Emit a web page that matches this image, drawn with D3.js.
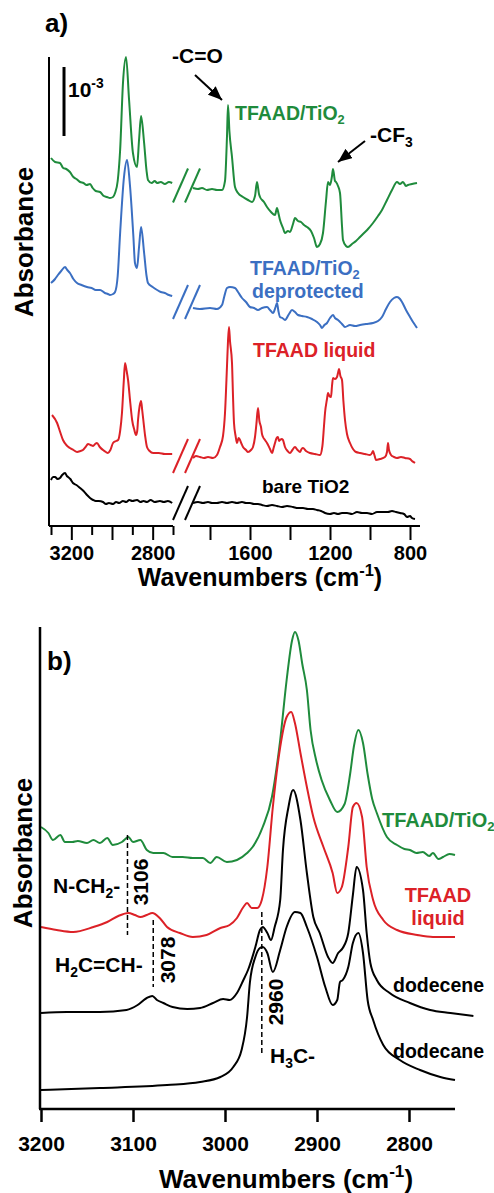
<!DOCTYPE html>
<html>
<head>
<meta charset="utf-8">
<script src="https://cdn.jsdelivr.net/npm/d3@7"></script>
<style>
	body { margin: 0; background: #fff; }
	svg { display: block; font-family: "Liberation Sans", Arial, Helvetica, sans-serif; font-weight: bold; }
</style>
</head>
<body>
<div id="chart"></div>
<script>
// panel a: [wavenumber (cm-1), absorbance with offset]
var tfaadTiO2A = [
	[3300,3.68],[3280,3.64],[3256,3.63],[3240,3.58],[3225,3.57],[3207,3.54],[3190,3.49],[3175,3.47],[3157,3.44],[3140,3.43],
	[3125,3.41],[3108,3.42],[3095,3.38],[3080,3.35],[3059,3.34],[3040,3.30],[3025,3.29],[3010,3.28],[2995,3.29],[2985,3.33],
	[2972,3.45],[2960,3.76],[2946,4.43],[2931,4.69],[2916,4.26],[2897,3.73],[2877,3.59],[2867,3.86],[2857,4.10],[2842,3.83],
	[2830,3.55],[2823,3.46],[2805,3.43],[2790,3.45],[2778,3.43],[2760,3.44],[2740,3.42],[2720,3.44],[2704,3.43],
	[1885,3.38],[1860,3.37],[1840,3.38],[1815,3.36],[1790,3.37],[1765,3.36],[1740,3.36],[1725,3.45],[1715,3.90],[1710,4.21],
	[1703,3.95],[1690,3.69],[1675,3.39],[1660,3.33],[1635,3.29],[1610,3.26],[1590,3.24],[1575,3.30],[1565,3.44],[1555,3.32],
	[1550,3.29],[1530,3.24],[1515,3.19],[1495,3.14],[1475,3.11],[1465,3.18],[1457,3.12],[1450,3.06],[1435,2.98],[1425,2.93],
	[1410,2.95],[1400,2.94],[1385,3.02],[1375,3.08],[1360,3.05],[1345,3.04],[1330,3.01],[1315,2.99],[1295,2.95],[1280,2.88],
	[1265,2.79],[1250,2.82],[1235,2.93],[1220,3.25],[1210,3.44],[1200,3.41],[1190,3.50],[1185,3.57],[1175,3.45],[1170,3.44],
	[1160,3.40],[1150,3.33],[1140,3.00],[1135,2.86],[1120,2.80],[1110,2.79],[1090,2.82],[1070,2.85],[1050,2.89],[1030,2.93],
	[1010,2.97],[985,3.03],[960,3.10],[940,3.16],[915,3.26],[890,3.36],[865,3.44],[850,3.42],[835,3.44],[820,3.40],
	[810,3.41],[790,3.42],[765,3.43]
];
var deprotectedA = [
	[3300,2.43],[3280,2.47],[3266,2.51],[3250,2.55],[3231,2.59],[3220,2.56],[3207,2.53],[3190,2.47],[3172,2.43],[3150,2.41],
	[3123,2.39],[3100,2.38],[3080,2.36],[3059,2.36],[3035,2.33],[3020,2.32],[3010,2.31],[2995,2.32],[2985,2.34],[2972,2.50],
	[2960,2.93],[2941,3.49],[2926,3.66],[2911,3.39],[2895,2.90],[2887,2.63],[2877,2.58],[2867,2.79],[2857,2.99],[2842,2.73],
	[2830,2.50],[2823,2.43],[2800,2.39],[2778,2.36],[2760,2.34],[2740,2.33],[2720,2.31],[2704,2.30],
	[1885,2.18],[1850,2.17],[1800,2.18],[1765,2.17],[1740,2.21],[1728,2.30],[1715,2.38],[1700,2.39],[1675,2.38],[1660,2.34],
	[1640,2.28],[1620,2.24],[1600,2.19],[1580,2.18],[1560,2.16],[1540,2.18],[1515,2.19],[1500,2.16],[1485,2.13],[1472,2.19],
	[1465,2.23],[1458,2.15],[1450,2.09],[1438,2.08],[1425,2.06],[1405,2.12],[1390,2.16],[1375,2.14],[1360,2.11],[1340,2.10],
	[1315,2.09],[1290,2.07],[1265,2.04],[1250,2.01],[1240,1.98],[1228,2.01],[1215,2.03],[1200,2.08],[1185,2.11],[1175,2.08],
	[1160,2.06],[1140,2.02],[1125,1.99],[1100,2.01],[1075,2.00],[1050,2.01],[1020,2.02],[985,2.03],[960,2.05],[940,2.09],
	[920,2.17],[900,2.24],[880,2.28],[865,2.29],[850,2.27],[840,2.24],[820,2.16],[800,2.09],[785,2.04],[775,2.01],[765,1.98]
];
var liquidA = [
	[3295,1.11],[3270,1.03],[3255,0.94],[3241,0.86],[3225,0.81],[3207,0.78],[3190,0.76],[3172,0.74],[3155,0.75],[3143,0.76],
	[3130,0.79],[3118,0.82],[3105,0.81],[3093,0.80],[3083,0.82],[3074,0.83],[3060,0.79],[3044,0.76],[3030,0.74],[3020,0.73],
	[3008,0.76],[2995,0.83],[2980,0.85],[2970,0.86],[2960,0.95],[2951,1.13],[2942,1.45],[2936,1.63],[2928,1.55],[2921,1.46],
	[2910,1.23],[2901,1.06],[2890,0.96],[2882,0.91],[2876,0.95],[2872,1.06],[2864,1.20],[2857,1.25],[2851,1.15],[2846,1.06],
	[2837,0.90],[2828,0.79],[2815,0.75],[2798,0.73],[2770,0.73],[2740,0.72],[2704,0.72],
	[1885,0.68],[1870,0.70],[1850,0.69],[1830,0.68],[1810,0.69],[1785,0.68],[1765,0.71],[1750,0.79],[1735,0.90],[1725,1.13],
	[1715,1.60],[1710,1.85],[1705,1.99],[1700,1.85],[1690,1.63],[1685,1.30],[1680,1.03],[1672,0.90],[1665,0.83],[1657,0.88],
	[1650,0.86],[1642,0.82],[1635,0.79],[1620,0.76],[1610,0.74],[1595,0.76],[1585,0.79],[1575,0.89],[1568,1.02],[1560,1.18],
	[1553,1.05],[1545,0.99],[1540,0.92],[1535,0.89],[1525,0.86],[1515,0.83],[1500,0.77],[1490,0.73],[1482,0.78],[1475,0.83],
	[1467,0.88],[1460,0.89],[1455,0.85],[1450,0.86],[1440,0.87],[1435,0.86],[1425,0.79],[1412,0.75],[1400,0.73],[1388,0.76],
	[1375,0.79],[1362,0.76],[1350,0.74],[1342,0.77],[1335,0.78],[1320,0.75],[1300,0.73],[1275,0.72],[1250,0.71],[1238,0.80],
	[1230,1.00],[1225,1.13],[1215,1.27],[1210,1.33],[1203,1.30],[1195,1.29],[1190,1.40],[1185,1.48],[1175,1.47],[1165,1.49],
	[1160,1.53],[1155,1.57],[1148,1.50],[1140,1.46],[1133,1.25],[1125,1.06],[1115,0.92],[1100,0.83],[1085,0.77],[1070,0.74],
	[1050,0.73],[1025,0.72],[1000,0.71],[990,0.73],[985,0.75],[978,0.71],[970,0.66],[950,0.67],[925,0.69],[915,0.74],
	[910,0.83],[905,0.76],[895,0.71],[880,0.69],[865,0.68],[845,0.69],[825,0.68],[800,0.67],[790,0.65],[775,0.63]
];
var bareTiO2A = [
	[3300,0.46],[3290,0.49],[3280,0.49],[3268,0.47],[3256,0.48],[3245,0.51],[3231,0.53],[3222,0.50],[3216,0.49],[3205,0.47],
	[3192,0.43],[3175,0.41],[3157,0.38],[3140,0.35],[3123,0.31],[3108,0.28],[3093,0.26],[3080,0.25],[3065,0.25],[3044,0.24],
	[3030,0.22],[3015,0.23],[2995,0.22],[2980,0.24],[2965,0.23],[2946,0.25],[2930,0.24],[2915,0.26],[2900,0.25],[2877,0.26],
	[2860,0.24],[2845,0.25],[2828,0.24],[2810,0.26],[2790,0.24],[2764,0.25],[2745,0.24],[2725,0.25],[2704,0.23],
	[1885,0.23],[1860,0.24],[1835,0.23],[1810,0.24],[1790,0.23],[1765,0.23],[1740,0.24],[1715,0.23],[1690,0.24],[1665,0.23],
	[1640,0.24],[1620,0.23],[1600,0.23],[1580,0.22],[1560,0.22],[1540,0.21],[1515,0.20],[1490,0.21],[1465,0.20],[1440,0.19],
	[1415,0.20],[1385,0.19],[1360,0.18],[1335,0.18],[1310,0.17],[1285,0.17],[1265,0.16],[1245,0.15],[1225,0.13],[1200,0.12],
	[1180,0.13],[1160,0.12],[1140,0.13],[1115,0.13],[1090,0.12],[1065,0.14],[1040,0.13],[1015,0.13],[990,0.12],[965,0.14],
	[935,0.14],[910,0.14],[890,0.15],[870,0.14],[850,0.13],[830,0.12],[815,0.09],[800,0.10],[790,0.08],[775,0.07]
];

// panel b
var tfaadTiO2B = [
	[3200,2.82],[3192,2.76],[3187,2.69],[3179,2.74],[3174,2.67],[3166,2.67],[3160,2.68],[3150,2.66],[3143,2.69],[3136,2.66],
	[3128,2.71],[3122,2.64],[3112,2.67],[3105,2.72],[3100,2.67],[3092,2.69],[3085,2.59],[3078,2.56],[3067,2.56],[3057,2.52],
	[3046,2.52],[3035,2.51],[3024,2.51],[3016,2.46],[3009,2.52],[2998,2.47],[2987,2.49],[2976,2.56],[2970,2.62],[2959,2.82],
	[2949,3.12],[2940,3.69],[2933,4.29],[2927,4.69],[2924,4.77],[2920,4.68],[2916,4.45],[2911,4.19],[2907,3.79],[2901,3.49],
	[2895,3.29],[2886,3.09],[2878,2.97],[2870,3.05],[2864,3.35],[2860,3.62],[2855,3.79],[2850,3.66],[2845,3.35],[2840,3.10],
	[2835,2.96],[2824,2.72],[2813,2.64],[2805,2.60],[2799,2.59],[2792,2.56],[2785,2.57],[2778,2.53],[2774,2.56],[2768,2.50],
	[2763,2.52],[2756,2.55],[2750,2.54]
];
var liquidB = [
	[3200,1.82],[3183,1.79],[3165,1.77],[3143,1.82],[3128,1.87],[3116,1.93],[3105,1.96],[3098,1.94],[3092,1.92],[3085,1.94],
	[3079,1.96],[3071,1.91],[3063,1.82],[3049,1.76],[3035,1.72],[3020,1.74],[3005,1.81],[2995,1.84],[2987,1.91],[2980,2.02],
	[2976,2.06],[2971,2.01],[2965,2.01],[2960,2.09],[2954,2.42],[2948,3.02],[2940,3.62],[2933,3.92],[2928,3.97],[2924,3.86],
	[2918,3.56],[2911,3.22],[2904,2.92],[2893,2.62],[2883,2.36],[2878,2.16],[2873,2.22],[2866,2.62],[2861,3.02],[2857,3.06],
	[2851,2.92],[2846,2.42],[2839,2.09],[2828,1.89],[2813,1.79],[2791,1.74],[2774,1.72],[2750,1.72]
];
var dodeceneB = [
	[3200,0.96],[3172,0.97],[3136,0.97],[3107,0.99],[3095,1.04],[3085,1.11],[3079,1.13],[3074,1.09],[3067,1.06],[3057,1.02],
	[3041,1.00],[3027,1.01],[3013,1.06],[3002,1.10],[2995,1.09],[2987,1.16],[2980,1.29],[2975,1.39],[2967,1.62],[2962,1.79],
	[2959,1.82],[2954,1.76],[2950,1.69],[2946,1.82],[2940,2.09],[2937,2.59],[2931,3.02],[2926,3.19],[2918,2.89],[2911,2.36],
	[2904,1.92],[2897,1.76],[2888,1.52],[2883,1.46],[2877,1.56],[2872,1.61],[2866,1.76],[2861,2.14],[2857,2.42],[2850,2.19],
	[2846,1.76],[2842,1.46],[2835,1.29],[2821,1.16],[2799,1.06],[2777,0.99],[2755,0.96],[2730,0.93]
];
var dodecaneB = [
	[3200,0.19],[3136,0.21],[3063,0.24],[3027,0.27],[3005,0.32],[2991,0.42],[2982,0.59],[2976,0.92],[2973,1.26],[2967,1.52],
	[2962,1.61],[2959,1.62],[2954,1.56],[2948,1.37],[2940,1.59],[2933,1.82],[2924,1.97],[2918,1.96],[2911,1.82],[2900,1.52],
	[2891,1.22],[2883,1.04],[2878,1.09],[2875,1.27],[2872,1.29],[2866,1.42],[2861,1.66],[2855,1.76],[2850,1.56],[2845,1.09],
	[2839,0.89],[2828,0.64],[2810,0.49],[2788,0.39],[2766,0.32],[2750,0.29]
];

var ticksHighMajor = [3200, 3000, 2800],
	ticksHighMinor = [3300, 3100, 2900, 2700],
	ticksLow = [1800, 1600, 1400, 1200, 1000, 800],
	labelsA = [3200, 2800, 1600, 1200, 800],
	ticksB = [3200, 3100, 3000, 2900, 2800];

var scaleBarTop = 4.59, scaleBarSize = 0.69; // 10^-3 absorbance in plot units

var GREEN = '#1f8b3c', BLUE = '#3b6fc2', RED = '#dc2127', BLACK = '#000';

var svg = d3.select('#chart').append('svg')
	.attr('width', 494)
	.attr('height', 1193);

svg.append('defs').append('marker')
	.attr('id', 'arrow')
	.attr('viewBox', '0 0 12 10')
	.attr('refX', 12).attr('refY', 5)
	.attr('markerWidth', 14).attr('markerHeight', 12)
	.attr('markerUnits', 'userSpaceOnUse')
	.attr('orient', 'auto')
	.append('path')
	.attr('d', 'M0,0 L12,5 L0,10 z')
	.attr('fill', '#000');

function richText(g, x, y, parts, size, color, anchor) {
	var t = g.append('text')
		.attr('x', x).attr('y', y)
		.attr('font-size', size)
		.attr('fill', color || '#000')
		.attr('text-anchor', anchor || 'start');
	var cur = 0;
	parts.forEach(function(p) {
		var target = p[1] === 'sub' ? 0.22 * size : p[1] === 'sup' ? -0.42 * size : 0;
		t.append('tspan')
			.attr('dy', target - cur)
			.attr('font-size', p[1] ? size * 0.66 : size)
			.text(p[0]);
		cur = target;
	});
	return t;
}

function vText(g, x, y, txt, size) {
	g.append('text')
		.attr('transform', 'translate(' + x + ',' + y + ') rotate(-90)')
		.attr('text-anchor', 'middle')
		.attr('font-size', size)
		.text(txt);
}

drawPanelA();
drawPanelB();

function drawPanelA() {
	var g = svg.append('g');
	var xHi = d3.scaleLinear().domain([3300, 2700]).range([51, 173]);
	var xLo = d3.scaleLinear().domain([1900, 755]).range([190, 419]);
	var y = d3.scaleLinear().domain([0, 4.69]).range([526, 57]);

	var series = [
		{ data: tfaadTiO2A, color: GREEN },
		{ data: deprotectedA, color: BLUE },
		{ data: liquidA, color: RED },
		{ data: bareTiO2A, color: BLACK }
	];

	var lineHi = d3.line().x(function(d) { return xHi(d[0]) }).y(function(d) { return y(d[1]) }).curve(d3.curveMonotoneX);
	var lineLo = d3.line().x(function(d) { return xLo(d[0]) }).y(function(d) { return y(d[1]) }).curve(d3.curveMonotoneX);

	series.forEach(function(s) {
		var hi = s.data.filter(function(d) { return d[0] > 2000 });
		var lo = s.data.filter(function(d) { return d[0] < 2000 });

		g.append('path').attr('d', lineHi(hi))
			.attr('fill', 'none').attr('stroke', s.color).attr('stroke-width', 2);
		g.append('path').attr('d', lineLo(lo))
			.attr('fill', 'none').attr('stroke', s.color).attr('stroke-width', 2);

		// break marks
		var cy = (y(hi[hi.length - 1][1]) + y(lo[0][1])) / 2;
		[xHi.range()[1] + 7.5, xLo.range()[0] + 2.5].forEach(function(cx) {
			g.append('line')
				.attr('x1', cx - 7.5).attr('y1', cy + 17)
				.attr('x2', cx + 7.5).attr('y2', cy - 17)
				.attr('stroke', s.color).attr('stroke-width', 2);
		});
	});

	// axes
	g.append('line')
		.attr('x1', 49).attr('x2', 49)
		.attr('y1', y.range()[1]).attr('y2', y.range()[0])
		.attr('stroke', '#000').attr('stroke-width', 2);

	function axis(scale, values, size, labels) {
		var ax = g.append('g')
			.attr('transform', 'translate(0,' + y.range()[0] + ')')
			.call(d3.axisBottom(scale)
				.tickValues(values)
				.tickSize(size)
				.tickSizeOuter(0)
				.tickPadding(6)
				.tickFormat(function(d) { return labels && labelsA.indexOf(d) >= 0 ? d : '' }));
		ax.select('.domain').attr('stroke-width', 2).attr('d', function() {
			var r = scale.range();
			return 'M' + (r[0] === 51 ? 49 : r[0]) + ',0H' + (r[1] === 419 ? 420 : r[1]);
		});
		ax.selectAll('.tick line').attr('stroke-width', 2);
		ax.selectAll('.tick text').attr('font-size', 20).attr('font-family', null).attr('fill', '#000');
		return ax;
	}
	axis(xHi, ticksHighMinor, 9, false);
	axis(xHi, ticksHighMajor, 14, true);
	axis(xLo, ticksLow, 14, true);

	g.append('text')
		.attr('x', 45).attr('y', 32)
		.attr('font-size', 26).text('a)');

	vText(g, 33, 242, 'Absorbance', 26);

	richText(g, 260, 586, [['Wavenumbers (cm'], ['-1', 'sup'], [')']], 25, '#000', 'middle');

	// scale bar
	g.append('line')
		.attr('x1', xHi(3236)).attr('x2', xHi(3236))
		.attr('y1', y(scaleBarTop)).attr('y2', y(scaleBarTop - scaleBarSize))
		.attr('stroke', '#000').attr('stroke-width', 3);
	richText(g, xHi(3236) + 4, 97, [['10'], ['-3', 'sup']], 21);

	// annotations
	richText(g, 172, 63, [['-C=O']], 21);
	g.append('line')
		.attr('x1', 195).attr('y1', 75)
		.attr('x2', xLo(1710) - 6).attr('y2', y(4.21) - 5)
		.attr('stroke', '#000').attr('stroke-width', 2)
		.attr('marker-end', 'url(#arrow)');
	richText(g, 370, 142, [['-CF'], ['3', 'sub']], 21);
	g.append('line')
		.attr('x1', 365).attr('y1', 141)
		.attr('x2', xLo(1185) + 5).attr('y2', y(3.57) - 7)
		.attr('stroke', '#000').attr('stroke-width', 2)
		.attr('marker-end', 'url(#arrow)');

	richText(g, 235, 120, [['TFAAD/TiO'], ['2', 'sub']], 19.5, GREEN);
	richText(g, 250, 275, [['TFAAD/TiO'], ['2', 'sub']], 19.5, BLUE);
	richText(g, 252, 298, [['deprotected']], 19.5, BLUE);
	richText(g, 253, 357, [['TFAAD liquid']], 19.5, RED);
	richText(g, 262, 493, [['bare TiO2']], 19, '#000');
}

function drawPanelB() {
	var g = svg.append('g');
	var x = d3.scaleLinear().domain([3200, 2750]).range([41, 455]);
	var y = d3.scaleLinear().domain([0, 4.82]).range([1109, 627]);

	var series = [
		{ data: tfaadTiO2B, color: GREEN },
		{ data: liquidB, color: RED },
		{ data: dodeceneB, color: BLACK },
		{ data: dodecaneB, color: BLACK }
	];

	var line = d3.line()
		.x(function(d) { return x(d[0]) })
		.y(function(d) { return y(d[1]) })
		.curve(d3.curveMonotoneX);

	g.selectAll('.trace')
		.data(series)
		.enter()
		.append('path')
		.attr('class', 'trace')
		.attr('d', function(d) { return line(d.data) })
		.attr('fill', 'none')
		.attr('stroke', function(d) { return d.color })
		.attr('stroke-width', 2);

	// dashed guides
	var guides = [[3106, 2.74, 1.74], [3078, 1.89, 1.22], [2960, 1.97, 0.56]];
	guides.forEach(function(d) {
		g.append('line')
			.attr('x1', x(d[0])).attr('x2', x(d[0]))
			.attr('y1', y(d[1])).attr('y2', y(d[2]))
			.attr('stroke', '#000').attr('stroke-width', 1.5)
			.attr('stroke-dasharray', '5,3');
	});

	g.append('line')
		.attr('x1', 40).attr('x2', 40)
		.attr('y1', y.range()[1]).attr('y2', y.range()[0])
		.attr('stroke', '#000').attr('stroke-width', 2.5);

	var ax = g.append('g')
		.attr('transform', 'translate(0,' + y.range()[0] + ')')
		.call(d3.axisBottom(x).tickValues(ticksB).tickFormat(d3.format('d'))
			.tickSize(13).tickSizeOuter(0).tickPadding(14));
	ax.select('.domain').attr('stroke-width', 2.5).attr('d', 'M39,0H' + x.range()[1]);
	ax.selectAll('.tick line').attr('stroke-width', 2.5);
	ax.selectAll('.tick text').attr('font-size', 21).attr('font-family', null).attr('fill', '#000');

	g.append('text').attr('x', 47).attr('y', 670).attr('font-size', 26).text('b)');
	vText(g, 32, 853, 'Absorbance', 26);
	richText(g, 286, 1188, [['Wavenumbers (cm'], ['-1', 'sup'], [')']], 26, '#000', 'middle');

	vText(g, 148, 882, '3106', 21);
	vText(g, 175, 960, '3078', 21);
	vText(g, 283, 1002, '2960', 21);

	richText(g, 53, 893, [['N-CH'], ['2', 'sub'], ['-']], 21);
	richText(g, 55, 972, [['H'], ['2', 'sub'], ['C=CH-']], 21);
	richText(g, 270, 1063, [['H'], ['3', 'sub'], ['C-']], 21);

	richText(g, 382, 827, [['TFAAD/TiO'], ['2', 'sub']], 20, GREEN);
	richText(g, 438, 902, [['TFAAD']], 20, RED, 'middle');
	richText(g, 438, 925, [['liquid']], 20, RED, 'middle');
	richText(g, 393, 992, [['dodecene']], 19.5);
	richText(g, 393, 1058, [['dodecane']], 19.5);
}
</script>
</body>
</html>
